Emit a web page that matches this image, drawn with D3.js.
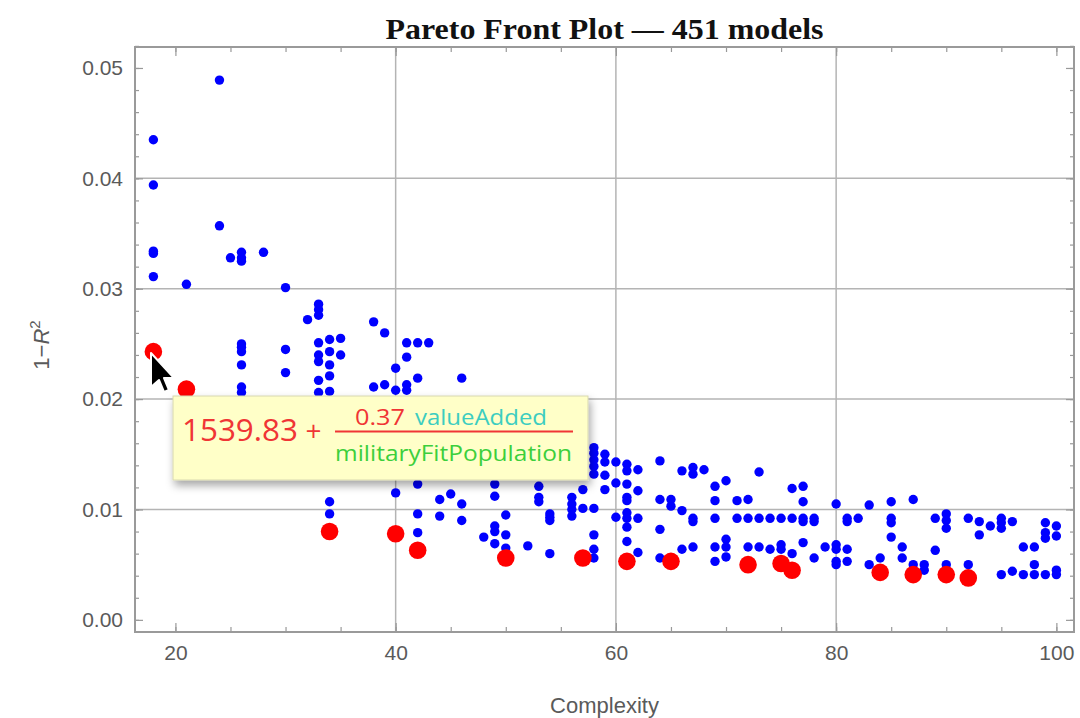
<!DOCTYPE html>
<html>
<head>
<meta charset="utf-8">
<script src="https://cdn.jsdelivr.net/npm/d3@7"></script>
<style>
  body { margin: 0; background: #fff; }
  svg { display: block; }
</style>
</head>
<body>
<div id="vis"></div>
<script>
// pareto front models (complexity, 1-R^2)
var paretoModels = [
    [18, 0.0243], [21, 0.0209], [34, 0.0080], [40, 0.0078], [42, 0.0063],
    [50, 0.0056], [57, 0.0056], [61, 0.0053], [65, 0.0053], [72, 0.0050],
    [75, 0.0051], [76, 0.0045], [84, 0.0043], [87, 0.0041], [90, 0.0041],
    [92, 0.0038]
];

// other models, grouped by complexity
var otherModels = [
    [18, [0.0435, 0.0394, 0.0334, 0.0332, 0.0311]],
    [21, [0.0304]],
    [24, [0.0489, 0.0357]],
    [25, [0.0328]],
    [26, [0.0333, 0.0328, 0.0325, 0.0250, 0.0247, 0.0243, 0.0231, 0.0211, 0.0206]],
    [28, [0.0333]],
    [30, [0.0301, 0.0245, 0.0224]],
    [32, [0.0272]],
    [33, [0.0286, 0.0281, 0.0276, 0.0251, 0.0240, 0.0234, 0.0217, 0.0206]],
    [34, [0.0254, 0.0243, 0.0231, 0.0221, 0.0207, 0.0107, 0.0096]],
    [35, [0.0255, 0.0240]],
    [38, [0.0270, 0.0211]],
    [39, [0.0260, 0.0213]],
    [40, [0.0228, 0.0208, 0.0115]],
    [41, [0.0251, 0.0238, 0.0213, 0.0208]],
    [42, [0.0251, 0.0219, 0.0123, 0.0096, 0.0079]],
    [43, [0.0251]],
    [44, [0.0109, 0.0094]],
    [45, [0.0114]],
    [46, [0.0219, 0.0105, 0.0090]],
    [48, [0.0075]],
    [49, [0.0123, 0.0112, 0.0085, 0.0080, 0.0069]],
    [50, [0.0095, 0.0077, 0.0065]],
    [52, [0.0067]],
    [53, [0.0121, 0.0111, 0.0107]],
    [54, [0.0096, 0.0093, 0.0090, 0.0060]],
    [56, [0.0111, 0.0105, 0.0100, 0.0094]],
    [57, [0.0164, 0.0118, 0.0101]],
    [58, [0.0156, 0.0151, 0.0145, 0.0139, 0.0132, 0.0101, 0.0077, 0.0064, 0.0056]],
    [59, [0.0150, 0.0143, 0.0131, 0.0118]],
    [60, [0.0143, 0.0124, 0.0093]],
    [61, [0.0141, 0.0135, 0.0123, 0.0111, 0.0108, 0.0097, 0.0092, 0.0084, 0.0071]],
    [62, [0.0136, 0.0117, 0.0092, 0.0061]],
    [64, [0.0144, 0.0109, 0.0082, 0.0056]],
    [65, [0.0109, 0.0103]],
    [66, [0.0135, 0.0099, 0.0064]],
    [67, [0.0138, 0.0132, 0.0092, 0.0089, 0.0066]],
    [68, [0.0136]],
    [69, [0.0121, 0.0108, 0.0092, 0.0066, 0.0053]],
    [70, [0.0126, 0.0073, 0.0066, 0.0057]],
    [71, [0.0108, 0.0092]],
    [72, [0.0109, 0.0092, 0.0066]],
    [73, [0.0134, 0.0092, 0.0066]],
    [74, [0.0092, 0.0064]],
    [75, [0.0092, 0.0068, 0.0064]],
    [76, [0.0119, 0.0092, 0.0060]],
    [77, [0.0121, 0.0107, 0.0092, 0.0089, 0.0070]],
    [78, [0.0092, 0.0089, 0.0056]],
    [79, [0.0066]],
    [80, [0.0105, 0.0068, 0.0064, 0.0053, 0.0050]],
    [81, [0.0092, 0.0089, 0.0064, 0.0053]],
    [82, [0.0092]],
    [83, [0.0104, 0.0050]],
    [84, [0.0056]],
    [85, [0.0107, 0.0092, 0.0088, 0.0075]],
    [86, [0.0066, 0.0056]],
    [87, [0.0109, 0.0050]],
    [88, [0.0050, 0.0045]],
    [89, [0.0092, 0.0063]],
    [90, [0.0096, 0.0090, 0.0083, 0.0050]],
    [92, [0.0092, 0.0050]],
    [93, [0.0089, 0.0077]],
    [94, [0.0085]],
    [95, [0.0092, 0.0088, 0.0083, 0.0041]],
    [96, [0.0089, 0.0044]],
    [97, [0.0066, 0.0041]],
    [98, [0.0066, 0.0050, 0.0041]],
    [99, [0.0088, 0.0079, 0.0074, 0.0041]],
    [100, [0.0085, 0.0076, 0.0045, 0.0041]]
];

var xTicks = [20, 40, 60, 80, 100];
var yTicks = [0, 0.01, 0.02, 0.03, 0.04, 0.05];
var xGrid = [40, 60, 80];
var yGrid = [0.01, 0.02, 0.03, 0.04];

var titleText = 'Pareto Front Plot \u2014 451 models';
var tipConstant = '1539.83';
var tipCoef = '0.37';
var tipNumVar = 'valueAdded';
var tipDenVar = 'militaryFitPopulation';

var width = 1080;
var height = 718;
var frame = { left: 135, right: 1074, top: 47, bottom: 632 };

var x = d3.scaleLinear().domain([16.33, 101.6]).range([frame.left, frame.right]);
var y = d3.scaleLinear().domain([-0.0011, 0.0519]).range([frame.bottom, frame.top]);

var svg = d3.select('#vis')
    .append('svg')
    .attr('width', width)
    .attr('height', height);

var defs = svg.append('defs');
var shadow = defs.append('filter')
    .attr('id', 'shadow')
    .attr('x', '-10%').attr('y', '-20%')
    .attr('width', '130%').attr('height', '160%');
shadow.append('feDropShadow')
    .attr('dx', 2).attr('dy', 5)
    .attr('stdDeviation', 4)
    .attr('flood-color', '#000')
    .attr('flood-opacity', 0.35);

// grid
svg.append('g')
    .selectAll('line')
    .data(xGrid)
    .enter().append('line')
    .attr('x1', (d) => x(d)).attr('x2', (d) => x(d))
    .attr('y1', frame.top).attr('y2', frame.bottom)
    .attr('stroke', '#b4b4b4')
    .attr('stroke-width', 1.5);

svg.append('g')
    .selectAll('line')
    .data(yGrid)
    .enter().append('line')
    .attr('x1', frame.left).attr('x2', frame.right)
    .attr('y1', (d) => y(d)).attr('y2', (d) => y(d))
    .attr('stroke', '#b4b4b4')
    .attr('stroke-width', 1.5);

// frame ticks, pointing inwards on all sides
var xMinor = d3.range(20, 101, 5);
var yMinor = d3.range(0, 0.0521, 0.002);

function styleAxis(g) {
    g.select('.domain').remove();
    g.selectAll('.tick line').attr('stroke', '#999').attr('stroke-width', 1.2);
    g.selectAll('.tick text')
        .attr('fill', '#5a5a5a')
        .style('font-family', 'Liberation Sans, Arial, sans-serif')
        .style('font-size', '21px');
}

svg.append('g')
    .attr('transform', 'translate(0,' + frame.bottom + ')')
    .call(d3.axisBottom(x).tickValues(xMinor).tickSize(-5).tickFormat(''))
    .call(styleAxis);
svg.append('g')
    .attr('transform', 'translate(0,' + frame.bottom + ')')
    .call(d3.axisBottom(x).tickValues(xTicks).tickSize(-9).tickPadding(13).tickFormat(d3.format('d')))
    .call(styleAxis);
svg.append('g')
    .attr('transform', 'translate(0,' + frame.top + ')')
    .call(d3.axisTop(x).tickValues(xMinor).tickSize(-5).tickFormat(''))
    .call(styleAxis);
svg.append('g')
    .attr('transform', 'translate(0,' + frame.top + ')')
    .call(d3.axisTop(x).tickValues(xTicks).tickSize(-9).tickFormat(''))
    .call(styleAxis);

svg.append('g')
    .attr('transform', 'translate(' + frame.left + ',0)')
    .call(d3.axisLeft(y).tickValues(yMinor).tickSize(-4).tickFormat(''))
    .call(styleAxis);
svg.append('g')
    .attr('transform', 'translate(' + frame.left + ',0)')
    .call(d3.axisLeft(y).tickValues(yTicks).tickSize(-8).tickPadding(12).tickFormat(d3.format('.2f')))
    .call(styleAxis);
svg.append('g')
    .attr('transform', 'translate(' + frame.right + ',0)')
    .call(d3.axisRight(y).tickValues(yMinor).tickSize(-4).tickFormat(''))
    .call(styleAxis);
svg.append('g')
    .attr('transform', 'translate(' + frame.right + ',0)')
    .call(d3.axisRight(y).tickValues(yTicks).tickSize(-8).tickFormat(''))
    .call(styleAxis);

// frame
svg.append('rect')
    .attr('x', frame.left).attr('y', frame.top)
    .attr('width', frame.right - frame.left)
    .attr('height', frame.bottom - frame.top)
    .attr('fill', 'none')
    .attr('stroke', '#9a9a9a')
    .attr('stroke-width', 2);

// points
var others = otherModels.flatMap((g) => g[1].map((e) => ({ c: g[0], e: e })));

svg.append('g')
    .selectAll('circle')
    .data(others)
    .enter().append('circle')
    .attr('cx', (d) => x(d.c))
    .attr('cy', (d) => y(d.e))
    .attr('r', 4.7)
    .attr('fill', '#0000ff');

svg.append('g')
    .selectAll('circle')
    .data(paretoModels)
    .enter().append('circle')
    .attr('cx', (d) => x(d[0]))
    .attr('cy', (d) => y(d[1]))
    .attr('r', 8.8)
    .attr('fill', '#ff0000');

// title and axis labels
svg.append('text')
    .attr('x', 604.5).attr('y', 39)
    .attr('text-anchor', 'middle')
    .attr('textLength', 438)
    .attr('lengthAdjust', 'spacingAndGlyphs')
    .style('font-family', 'Liberation Serif, Times New Roman, serif')
    .style('font-weight', 'bold')
    .style('font-size', '29px')
    .attr('fill', '#111')
    .text(titleText);

svg.append('text')
    .attr('x', 604.5).attr('y', 713)
    .attr('text-anchor', 'middle')
    .style('font-family', 'Liberation Sans, Arial, sans-serif')
    .style('font-size', '22px')
    .attr('fill', '#5a5a5a')
    .text('Complexity');

var ylab = svg.append('text')
    .attr('transform', 'translate(49,345) rotate(-90)')
    .attr('text-anchor', 'middle')
    .style('font-family', 'Liberation Sans, Arial, sans-serif')
    .style('font-size', '22px')
    .attr('fill', '#5a5a5a');
ylab.append('tspan').text('1\u2212');
ylab.append('tspan').style('font-style', 'italic').text('R');
ylab.append('tspan').attr('dy', -9).style('font-size', '15px').text('2');

// tooltip
var tip = svg.append('g');
tip.append('rect')
    .attr('x', 173).attr('y', 396)
    .attr('width', 415).attr('height', 84)
    .attr('fill', '#ffffc8')
    .attr('stroke', '#d8d8b0')
    .attr('stroke-width', 1)
    .attr('filter', 'url(#shadow)');

var tipFont = 'Open Sans, Lato, sans-serif';
tip.append('text')
    .attr('x', 182).attr('y', 441)
    .attr('textLength', 116)
    .attr('lengthAdjust', 'spacingAndGlyphs')
    .style('font-family', tipFont).style('font-size', '31px')
    .attr('fill', '#f03535')
    .text(tipConstant);
tip.append('text')
    .attr('x', 313.5).attr('y', 441)
    .attr('text-anchor', 'middle')
    .style('font-family', tipFont).style('font-size', '28px')
    .attr('fill', '#f03535')
    .text('+');
tip.append('text')
    .attr('x', 355).attr('y', 425)
    .attr('textLength', 50)
    .attr('lengthAdjust', 'spacingAndGlyphs')
    .style('font-family', tipFont).style('font-size', '22px')
    .attr('fill', '#f03535')
    .text(tipCoef);
tip.append('text')
    .attr('x', 415).attr('y', 425)
    .attr('textLength', 132)
    .attr('lengthAdjust', 'spacingAndGlyphs')
    .style('font-family', tipFont).style('font-size', '22px')
    .attr('fill', '#3ccdc0')
    .text(tipNumVar);
tip.append('line')
    .attr('x1', 335).attr('x2', 573)
    .attr('y1', 431.5).attr('y2', 431.5)
    .attr('stroke', '#f03535')
    .attr('stroke-width', 2);
tip.append('text')
    .attr('x', 335).attr('y', 461)
    .attr('textLength', 237)
    .attr('lengthAdjust', 'spacingAndGlyphs')
    .style('font-family', tipFont).style('font-size', '22px')
    .attr('fill', '#3ccf3c')
    .text(tipDenVar);

// mouse cursor over the first pareto point
var cursor = [[0, 0], [0, 34], [8, 27], [13, 39], [18, 37], [13, 25], [23, 25]];
svg.append('path')
    .attr('transform', 'translate(151,353)')
    .attr('d', d3.line()(cursor) + 'Z')
    .attr('fill', '#000')
    .attr('stroke', '#fff')
    .attr('stroke-width', 2)
    .attr('stroke-linejoin', 'round');
</script>
</body>
</html>
